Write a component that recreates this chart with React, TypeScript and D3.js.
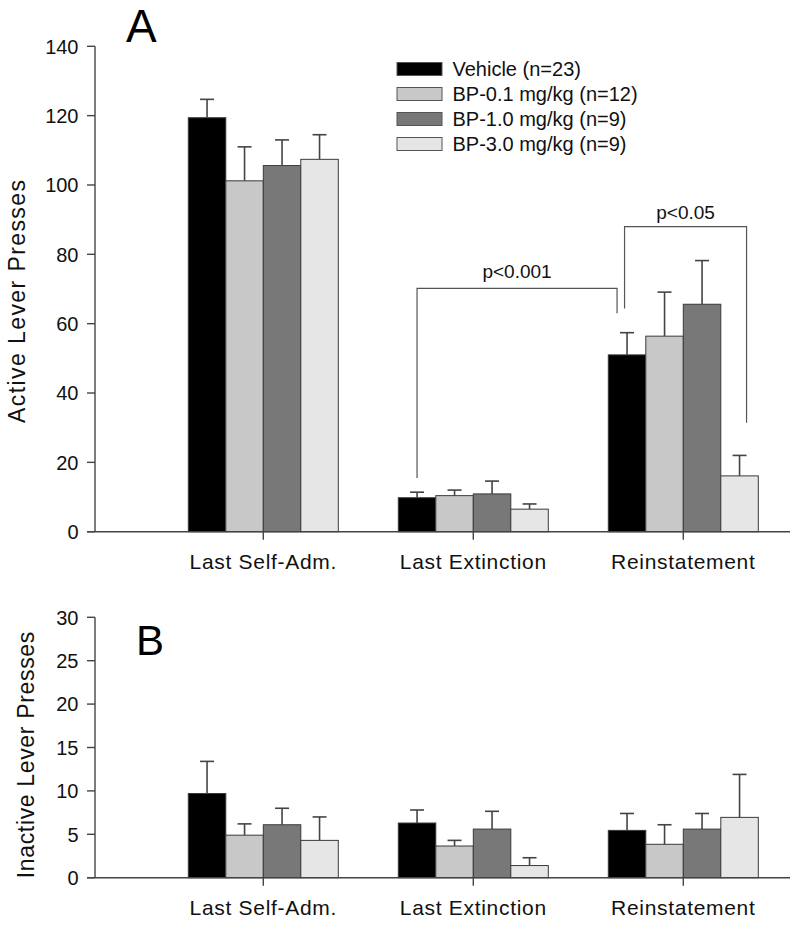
import React from "react";
import * as d3 from "d3";

const categories = ["Last Self-Adm.", "Last Extinction", "Reinstatement"];
const seriesNames = ["Vehicle (n=23)", "BP-0.1 mg/kg (n=12)", "BP-1.0 mg/kg (n=9)", "BP-3.0 mg/kg (n=9)"];
const seriesColors = ["#000000", "#c8c8c8", "#787878", "#e6e6e6"];

// Panel A: active lever presses (mean, SEM) per series across categories
const activeVehicle = [119.4, 9.8, 51.0];
const activeVehicleSem = [5.3, 1.6, 6.4];
const activeBP01 = [101.2, 10.4, 56.4];
const activeBP01Sem = [9.8, 1.6, 12.7];
const activeBP10 = [105.6, 10.9, 65.6];
const activeBP10Sem = [7.4, 3.7, 12.6];
const activeBP30 = [107.4, 6.5, 16.1];
const activeBP30Sem = [7.1, 1.5, 5.9];

// Panel B: inactive lever presses
const inactiveVehicle = [9.7, 6.3, 5.45];
const inactiveVehicleSem = [3.7, 1.5, 1.95];
const inactiveBP01 = [4.9, 3.65, 3.85];
const inactiveBP01Sem = [1.3, 0.65, 2.25];
const inactiveBP10 = [6.1, 5.6, 5.6];
const inactiveBP10Sem = [1.9, 2.05, 1.8];
const inactiveBP30 = [4.3, 1.4, 6.95];
const inactiveBP30Sem = [2.7, 0.9, 4.95];

const activeTicks = [0, 20, 40, 60, 80, 100, 120, 140];
const inactiveTicks = [0, 5, 10, 15, 20, 25, 30];

const FONT = "'Liberation Sans', Arial, Helvetica, sans-serif";
const AXIS = "#444";

type Bracket = {
  label: string;
  from: [number, number]; // [category, series]
  to: [number, number];
  dxFrom: number;
  dxTo: number;
  level: number;
  dropFrom: number;
  dropTo: number;
  labelLevel: number;
  labelDx: number;
};

const activeBrackets: Bracket[] = [
  { label: "p<0.001", from: [1, 0], to: [2, 0], dxFrom: 0, dxTo: -10, level: 70.2, dropFrom: 15.5, dropTo: 63.0, labelLevel: 73.1, labelDx: 0 },
  { label: "p<0.05", from: [2, 0], to: [2, 3], dxFrom: -2.5, dxTo: 7, level: 88.0, dropFrom: 64.4, dropTo: 31.4, labelLevel: 90.1, labelDx: 0 },
];

function Panel(props: {
  means: number[][];
  sems: number[][];
  ticks: number[];
  yTop: number;
  yBottom: number;
  yLabel: string;
  yLabelX: number;
  yLabelY: number;
  yLabelLen: number;
  letter: string;
  letterX: number;
  letterY: number;
  letterSize: number;
  brackets: Bracket[];
}) {
  const { means, sems, ticks } = props;
  const maxV = ticks[ticks.length - 1];
  const y = d3.scaleLinear().domain([0, maxV]).range([props.yBottom, props.yTop]);
  const xCat = d3.scalePoint<string>().domain(categories).range([263.3, 683.3]);
  const xSub = d3.scaleBand<number>().domain(d3.range(seriesNames.length)).range([-75, 75]).padding(0);
  const axisX = 95;
  const barCenter = (c: number, s: number) => (xCat(categories[c]) as number) + (xSub(s) as number) + xSub.bandwidth() / 2;
  const cap = 7;
  return (
    <g>
      {/* bars */}
      {categories.map((cat, ci) =>
        seriesNames.map((_, si) => {
          const v = means[si][ci];
          const x0 = (xCat(cat) as number) + (xSub(si) as number);
          return (
            <rect
              key={`b${ci}-${si}`}
              x={x0}
              y={y(v)}
              width={xSub.bandwidth()}
              height={y(0) - y(v)}
              fill={seriesColors[si]}
              stroke="#3a3a3a"
              strokeWidth={1}
            />
          );
        })
      )}
      {/* error bars */}
      {categories.map((cat, ci) =>
        seriesNames.map((_, si) => {
          const v = means[si][ci];
          const e = v + sems[si][ci];
          const cx = barCenter(ci, si);
          return (
            <g key={`e${ci}-${si}`} stroke="#444" strokeWidth={1.6}>
              <line x1={cx} x2={cx} y1={y(v)} y2={y(e)} />
              <line x1={cx - cap} x2={cx + cap} y1={y(e)} y2={y(e)} />
            </g>
          );
        })
      )}
      {/* y axis */}
      <line x1={axisX} x2={axisX} y1={y(maxV)} y2={y(0)} stroke={AXIS} strokeWidth={1.4} />
      {ticks.map((t) => (
        <g key={`t${t}`}>
          <line x1={axisX - 8} x2={axisX} y1={y(t)} y2={y(t)} stroke={AXIS} strokeWidth={1.4} />
          <text x={78.5} y={y(t)} dy="0.36em" textAnchor="end" fontFamily={FONT} fontSize={20} fill="#111">
            {t}
          </text>
        </g>
      ))}
      {/* x axis */}
      <line x1={87} x2={790} y1={y(0)} y2={y(0)} stroke={AXIS} strokeWidth={1.4} />
      {categories.map((cat) => (
        <g key={`c${cat}`}>
          <line x1={xCat(cat)} x2={xCat(cat)} y1={y(0)} y2={y(0) + 8} stroke={AXIS} strokeWidth={1.4} />
          <text
            x={xCat(cat)}
            y={y(0) + 37.5}
            textAnchor="middle"
            fontFamily={FONT}
            fontSize={21}
            letterSpacing={0.7}
            fill="#111"
          >
            {cat}
          </text>
        </g>
      ))}
      {/* y label */}
      <text
        transform={`translate(${props.yLabelX},${props.yLabelY}) rotate(-90)`}
        textAnchor="middle"
        fontFamily={FONT}
        fontSize={23}
        textLength={props.yLabelLen}
        fill="#111"
      >
        {props.yLabel}
      </text>
      {/* panel letter */}
      <text x={props.letterX} y={props.letterY} fontFamily={FONT} fontSize={props.letterSize} fill="#000">
        {props.letter}
      </text>
      {/* significance brackets */}
      {props.brackets.map((b) => {
        const xa = barCenter(b.from[0], b.from[1]) + b.dxFrom;
        const xb = barCenter(b.to[0], b.to[1]) + b.dxTo;
        const path = `M${xa},${y(b.dropFrom)}V${y(b.level)}H${xb}V${y(b.dropTo)}`;
        return (
          <g key={b.label}>
            <path d={path} fill="none" stroke="#555" strokeWidth={1.2} />
            <text
              x={(xa + xb) / 2 + b.labelDx}
              y={y(b.labelLevel)}
              textAnchor="middle"
              fontFamily={FONT}
              fontSize={19}
              fill="#111"
            >
              {b.label}
            </text>
          </g>
        );
      })}
    </g>
  );
}

function Legend() {
  const rowY = d3.scalePoint<string>().domain(seriesNames).range([69, 144]);
  return (
    <g>
      {seriesNames.map((name, i) => (
        <g key={name}>
          <rect
            x={397}
            y={(rowY(name) as number) - 6.5}
            width={45}
            height={13}
            fill={seriesColors[i]}
            stroke="#555"
            strokeWidth={1}
          />
          <text x={452.5} y={rowY(name)} dy="0.36em" fontFamily={FONT} fontSize={20} fill="#111">
            {name}
          </text>
        </g>
      ))}
    </g>
  );
}

export default function App() {
  const activeMeans = [activeVehicle, activeBP01, activeBP10, activeBP30];
  const activeSems = [activeVehicleSem, activeBP01Sem, activeBP10Sem, activeBP30Sem];
  const inactiveMeans = [inactiveVehicle, inactiveBP01, inactiveBP10, inactiveBP30];
  const inactiveSems = [inactiveVehicleSem, inactiveBP01Sem, inactiveBP10Sem, inactiveBP30Sem];
  return (
    <svg
      width={800}
      height={925}
      style={{ position: "absolute", left: 0, top: 0, background: "#fff" }}
    >
      <rect width={800} height={925} fill="#fff" />
      <Panel
        means={activeMeans}
        sems={activeSems}
        ticks={activeTicks}
        yTop={46.3}
        yBottom={531.7}
        yLabel="Active Lever Presses"
        yLabelX={25}
        yLabelY={301.5}
        yLabelLen={243}
        letter="A"
        letterX={126}
        letterY={41.7}
        letterSize={46}
        brackets={activeBrackets}
      />
      <Legend />
      <Panel
        means={inactiveMeans}
        sems={inactiveSems}
        ticks={inactiveTicks}
        yTop={617.3}
        yBottom={877.7}
        yLabel="Inactive Lever Presses"
        yLabelX={33.5}
        yLabelY={755}
        yLabelLen={246.5}
        letter="B"
        letterX={136}
        letterY={655}
        letterSize={42}
        brackets={[]}
      />
    </svg>
  );
}
